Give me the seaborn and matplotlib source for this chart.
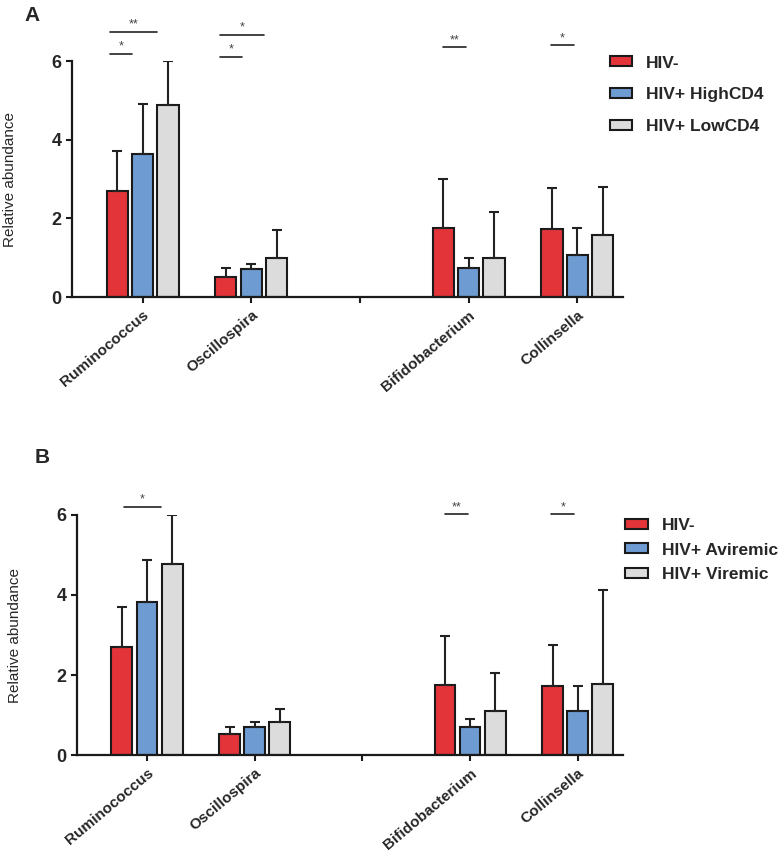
import matplotlib
matplotlib.use('Agg')
import matplotlib.pyplot as plt
import seaborn as sns
import pandas as pd
import numpy as np

# x slots (the blank one is the gap between the two pairs of genera)
genera = ['Ruminococcus', 'Oscillospira', '', 'Bifidobacterium', 'Collinsella']
present = ['Ruminococcus', 'Oscillospira', 'Bifidobacterium', 'Collinsella']

# Panel A - CD4 groups
groups_a = ['HIV-', 'HIV+ HighCD4', 'HIV+ LowCD4']
mean_a_neg = [2.70, 0.52, 1.76, 1.74]
mean_a_high = [3.63, 0.71, 0.73, 1.06]
mean_a_low = [4.87, 0.98, 0.98, 1.58]
sd_a_neg = [1.01, 0.21, 1.23, 1.03]
sd_a_high = [1.27, 0.13, 0.25, 0.69]
sd_a_low = [1.13, 0.72, 1.18, 1.21]

# Panel B - viremia groups
groups_b = ['HIV-', 'HIV+ Aviremic', 'HIV+ Viremic']
mean_b_neg = [2.69, 0.52, 1.74, 1.73]
mean_b_avir = [3.83, 0.71, 0.70, 1.11]
mean_b_vir = [4.77, 0.82, 1.11, 1.78]
sd_b_neg = [1.00, 0.19, 1.24, 1.02]
sd_b_avir = [1.05, 0.12, 0.20, 0.62]
sd_b_vir = [1.23, 0.34, 0.93, 2.35]

# significance lines: genus, start / end (in bar slots from the first bar), height, label
sig_a = [('Ruminococcus', -0.3, 0.6, 6.18, '*'),
         ('Ruminococcus', -0.3, 1.55, 6.74, '**'),
         ('Oscillospira', -0.25, 0.65, 6.10, '*'),
         ('Oscillospira', -0.25, 1.5, 6.67, '*'),
         ('Bifidobacterium', 0.0, 0.9, 6.35, '**'),
         ('Collinsella', -0.05, 0.85, 6.40, '*')]
sig_b = [('Ruminococcus', 0.1, 1.55, 6.20, '*'),
         ('Bifidobacterium', 0.0, 0.9, 6.02, '**'),
         ('Collinsella', -0.05, 0.85, 6.02, '*')]

colors = ['#E3343A', '#6E9BD1', '#DCDCDC']
BAR_W = 0.7

sns.set_style('ticks')
plt.rcParams['font.family'] = ['Liberation Sans', 'DejaVu Sans']


def make_df(groups, means, sds):
    rows = []
    for g, m, s in zip(groups, means, sds):
        for gen, v, e in zip(present, m, s):
            rows.append({'genus': gen, 'group': g, 'value': v, 'sd': e})
    return pd.DataFrame(rows)


def draw_panel(ax, df, groups, sig, leg_anchor, leg_space):
    pal = dict(zip(groups, colors))
    sns.barplot(data=df, x='genus', y='value', hue='group', order=genera,
                hue_order=groups, palette=pal, width=BAR_W, gap=0.17,
                edgecolor='#1a1a1a', linewidth=1.5, errorbar=None,
                saturation=1, ax=ax)

    # upper-only error bars
    sd_lookup = {(r.genus, r.group): r.sd for r in df.itertuples()}
    col_rgb = [matplotlib.colors.to_rgb(c) for c in colors]
    for p in ax.patches:
        if p.get_height() <= 0:
            continue
        xc = p.get_x() + p.get_width() / 2
        gen = genera[int(round(xc))]
        fc = p.get_facecolor()[:3]
        k = int(np.argmin([np.sum((np.array(fc) - np.array(c)) ** 2) for c in col_rgb]))
        e = sd_lookup[(gen, groups[k])]
        ax.errorbar(xc, p.get_height(), yerr=[[0], [e]], fmt='none',
                    ecolor='#222222', elinewidth=1.5, capsize=3.5,
                    capthick=1.5, zorder=1)

    slot = BAR_W / 3
    for gen, a, b, y, lab in sig:
        x0 = genera.index(gen) - slot
        ax.plot([x0 + a * slot, x0 + b * slot], [y, y], color='#222222',
                lw=1.2, clip_on=False)
        ax.text(x0 + (a + b) / 2 * slot, y + 0.03, lab, ha='center',
                va='bottom', fontsize=9, color='#444444')

    ax.set_ylim(0, 6)
    ax.set_yticks([0, 2, 4, 6])
    ax.set_xlim(-0.65, 4.42)
    ax.set_xlabel('')
    ax.set_ylabel('Relative abundance', fontsize=11)
    ax.yaxis.set_label_coords(-0.10, 0.5)
    for s in ['left', 'bottom']:
        ax.spines[s].set_linewidth(1.6)
        ax.spines[s].set_color('#1a1a1a')
    sns.despine(ax=ax)
    ax.tick_params(axis='both', length=4, width=1.5, color='#1a1a1a')
    for t in ax.get_yticklabels():
        t.set_fontsize(13)
        t.set_fontweight('bold')
    ax.set_xticks(range(len(genera)))
    ax.set_xticklabels(genera, rotation=40, ha='right',
                       rotation_mode='anchor', fontsize=11, fontweight='bold')
    ax.tick_params(axis='x', pad=4)

    sns.move_legend(ax, 'upper left', bbox_to_anchor=leg_anchor, frameon=False,
                    title=None, borderaxespad=0, borderpad=0,
                    handlelength=1.3, handleheight=0.5, handletextpad=0.8,
                    labelspacing=leg_space,
                    prop={'weight': 'bold', 'size': 12.5})


fig = plt.figure(figsize=(7.8, 8.58), dpi=100)
ax_a = fig.add_axes([0.0923, 0.6538, 0.7064, 0.2751])
ax_b = fig.add_axes([0.0987, 0.1200, 0.7000, 0.2798])

df_a = make_df(groups_a, [mean_a_neg, mean_a_high, mean_a_low],
               [sd_a_neg, sd_a_high, sd_a_low])
df_b = make_df(groups_b, [mean_b_neg, mean_b_avir, mean_b_vir],
               [sd_b_neg, sd_b_avir, sd_b_vir])

draw_panel(ax_a, df_a, groups_a, sig_a, (0.976, 1.023), 0.97)
draw_panel(ax_b, df_b, groups_b, sig_b, (1.004, 0.9875), 0.55)

fig.text(0.032, 0.993, 'A', fontsize=15, fontweight='bold', va='top')
fig.text(0.045, 0.478, 'B', fontsize=15, fontweight='bold', va='top')

fig.savefig('out.png', dpi=100)
